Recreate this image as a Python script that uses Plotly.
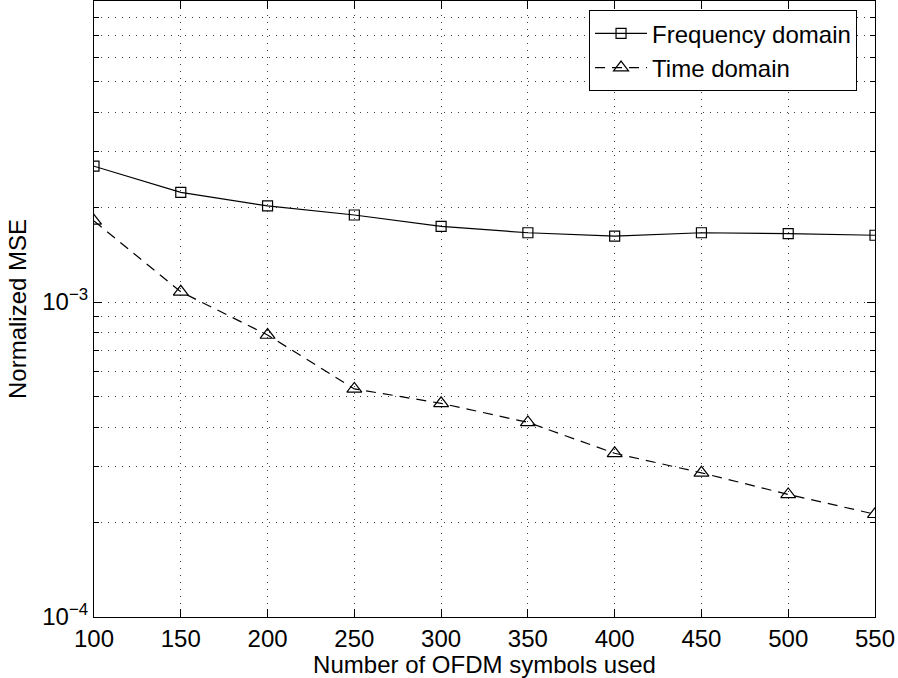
import numpy as np
import plotly.graph_objects as go

symbols = [100, 150, 200, 250, 300, 350, 400, 450, 500, 550]
freq_mse = [2.70e-3, 2.23e-3, 2.02e-3, 1.89e-3, 1.74e-3, 1.66e-3, 1.62e-3, 1.66e-3, 1.65e-3, 1.63e-3]
time_mse = [1.81e-3, 1.078e-3, 7.86e-4, 5.30e-4, 4.77e-4, 4.15e-4, 3.31e-4, 2.87e-4, 2.45e-4, 2.12e-4]

x_ticks = [100, 150, 200, 250, 300, 350, 400, 450, 500, 550]
y_major = [1e-4, 1e-3]
y_major_text = ["10<sup>\u22124</sup>", "10<sup>\u22123</sup>"]
y_minor = [m * d for d in (1e-4, 1e-3) for m in range(2, 10)]

FONT = "Liberation Sans, Arial, Helvetica, sans-serif"
FS = 24

fig = go.Figure()
fig.add_trace(go.Scatter(
    x=symbols, y=freq_mse, mode="lines+markers", name="Frequency domain",
    line=dict(color="black", width=1.2),
    marker=dict(symbol="square-open", size=10, color="black", line=dict(width=1.2)),
))
fig.add_trace(go.Scatter(
    x=symbols, y=time_mse, mode="lines+markers", name="Time domain",
    line=dict(color="black", width=1.2, dash="10px,7px"),
    marker=dict(symbol="triangle-up-open", size=13, color="black", line=dict(width=1.2)),
))

grid_col = "rgba(0,0,0,0.75)"
grid_dash = "1px,6px"
fig.update_layout(
    width=898, height=678,
    margin=dict(l=94, r=23, t=1, b=61),
    paper_bgcolor="white", plot_bgcolor="white",
    font=dict(family=FONT, size=FS, color="black"),
    showlegend=True,
    legend=dict(
        x=0.977, y=0.985, xanchor="right", yanchor="top",
        bgcolor="white", bordercolor="black", borderwidth=1,
        font=dict(family=FONT, size=FS, color="black"),
        tracegroupgap=0, itemwidth=52,
    ),
    xaxis=dict(
        range=[100, 550], tickmode="array", tickvals=x_ticks,
        ticks="inside", ticklen=8, tickcolor="black", tickwidth=1,
        showline=True, linecolor="black", linewidth=1.2, mirror="allticks",
        showgrid=True, gridcolor=grid_col, griddash=grid_dash, gridwidth=1,
        zeroline=False,
        tickfont=dict(family=FONT, size=FS, color="black"),
        title=dict(text="Number of OFDM symbols used", standoff=2,
                   font=dict(family=FONT, size=FS, color="black")),
    ),
    yaxis=dict(
        type="log", range=[-4, -2.044],
        tickmode="array", tickvals=y_major, ticktext=y_major_text,
        ticks="inside", ticklen=8, tickcolor="black", tickwidth=1,
        showline=True, linecolor="black", linewidth=1.2, mirror="allticks",
        showgrid=True, gridcolor=grid_col, griddash=grid_dash, gridwidth=1,
        zeroline=False,
        minor=dict(tickmode="array", tickvals=y_minor, ticks="inside", ticklen=5,
                   tickcolor="black", showgrid=True, gridcolor=grid_col,
                   griddash=grid_dash, gridwidth=1),
        tickfont=dict(family=FONT, size=FS, color="black"),
        title=dict(text="Normalized MSE", standoff=8,
                   font=dict(family=FONT, size=FS, color="black")),
    ),
)

fig.write_html("out.html")
